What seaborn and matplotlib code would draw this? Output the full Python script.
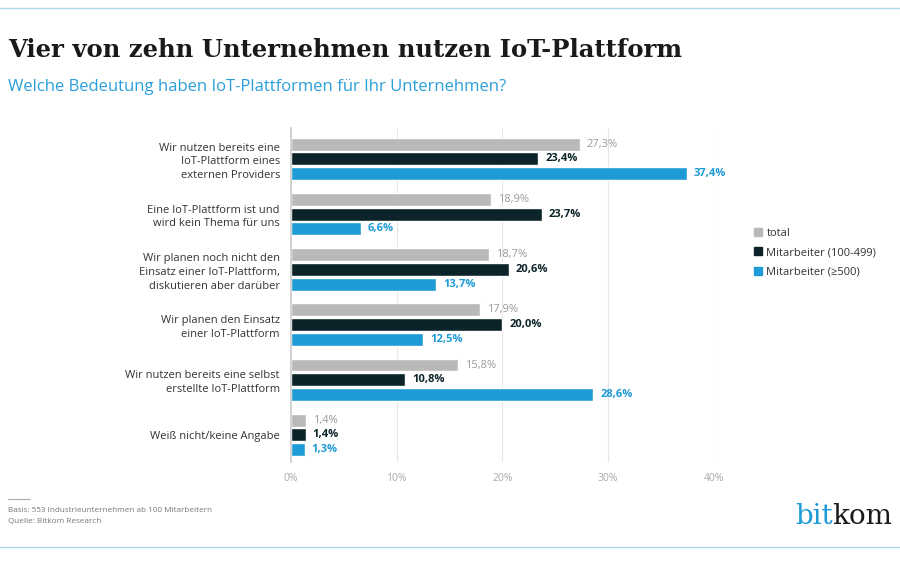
import matplotlib.pyplot as plt
import seaborn as sns
import pandas as pd
from matplotlib.lines import Line2D

# chart data
categories = [
    'Wir nutzen bereits eine\nIoT-Plattform eines\nexternen Providers',
    'Eine IoT-Plattform ist und\nwird kein Thema für uns',
    'Wir planen noch nicht den\nEinsatz einer IoT-Plattform,\ndiskutieren aber darüber',
    'Wir planen den Einsatz\neiner IoT-Plattform',
    'Wir nutzen bereits eine selbst\nerstellte IoT-Plattform',
    'Weiß nicht/keine Angabe',
]
series = ['total', 'Mitarbeiter (100-499)', 'Mitarbeiter (≥500)']
total = [27.3, 18.9, 18.7, 17.9, 15.8, 1.4]
mid_size = [23.4, 23.7, 20.6, 20.0, 10.8, 1.4]
large = [37.4, 6.6, 13.7, 12.5, 28.6, 1.3]
xticks = [0, 10, 20, 30, 40]

colors = ['#b9b9b9', '#0c2429', '#1e9bd7']
label_colors = ['#9a9a9a', '#0c2429', '#1e9bd7']
label_weights = ['normal', 'bold', 'bold']

rows = []
for s, vals in zip(series, [total, mid_size, large]):
    for c, v in zip(categories, vals):
        rows.append({'category': c, 'series': s, 'value': v})
df = pd.DataFrame(rows)

sns.set_style('white')
plt.rcParams['font.family'] = ['Open Sans', 'DejaVu Sans']

fig = plt.figure(figsize=(9, 5.63), dpi=100)
ax = fig.add_axes([291 / 900, 1 - 462 / 563, 423 / 900, 334 / 563])

sns.barplot(data=df, x='value', y='category', hue='series', orient='h',
            palette=colors, width=0.8, gap=0.12, ax=ax, legend=False,
            saturation=1)

# value labels
for i, cont in enumerate(ax.containers):
    labels = [f'{v:.1f}%'.replace('.', ',') for v in cont.datavalues]
    ax.bar_label(cont, labels=labels, padding=5, fontsize=8,
                 color=label_colors[i], fontweight=label_weights[i],
                 clip_on=False)

ax.set_xlim(0, 40)
ax.set_ylim(5.49, -0.56)
ax.set_xticks(xticks)
ax.set_xticklabels([f'{t}%' for t in xticks], fontsize=7.5, color='#aaaaaa')
ax.tick_params(axis='x', length=0, pad=8)
ax.tick_params(axis='y', length=0, pad=8)
for lab in ax.get_yticklabels():
    lab.set_fontsize(8)
    lab.set_color('#333333')
    lab.set_linespacing(1.35)
ax.set_xlabel('')
ax.set_ylabel('')
ax.xaxis.grid(True, color='#e6e6e6', lw=0.8)
ax.set_axisbelow(True)
for side in ['top', 'right', 'bottom']:
    ax.spines[side].set_visible(False)
ax.spines['left'].set_color('#cccccc')
ax.spines['left'].set_linewidth(1.2)

# legend
handles = [Line2D([], [], marker='s', ls='', color=c, markersize=6) for c in colors]
fig.legend(handles, series, loc='upper left', bbox_to_anchor=(742 / 900, 1 - 218 / 563),
           frameon=False, fontsize=8, labelcolor='#333333', handletextpad=0.3,
           labelspacing=0.75, handlelength=1.0)

# title area
fig.text(8 / 900, 1 - 50 / 563, 'Vier von zehn Unternehmen nutzen IoT-Plattform',
         fontsize=17.5, family='DejaVu Serif', fontweight='bold', color='#1a1a1a',
         va='center')
fig.text(8 / 900, 1 - 87 / 563, 'Welche Bedeutung haben IoT-Plattformen für Ihr Unternehmen?',
         fontsize=12, color='#2a9fd8', va='center')

# frame lines
fig.add_artist(Line2D([0, 1], [1 - 8 / 563, 1 - 8 / 563], color='#a9d4ee', lw=1))
fig.add_artist(Line2D([0, 1], [1 - 547 / 563, 1 - 547 / 563], color='#a9d4ee', lw=1))

# footer
fig.add_artist(Line2D([8 / 900, 30 / 900], [1 - 499 / 563, 1 - 499 / 563], color='#aaaaaa', lw=0.8))
fig.text(8 / 900, 1 - 510 / 563, 'Basis: 553 Industrieunternehmen ab 100 Mitarbeitern',
         fontsize=5.9, color='#777777', va='center')
fig.text(8 / 900, 1 - 521 / 563, 'Quelle: Bitkom Research',
         fontsize=5.9, color='#777777', va='center')
t = fig.text(795 / 900, 1 - 516 / 563, 'bit', fontsize=20, family='DejaVu Serif',
             color='#1e9bd7', va='center')
fig.canvas.draw()
bb = t.get_window_extent()
fig.text(bb.x1 / 900, 1 - 516 / 563, 'kom', fontsize=20, family='DejaVu Serif',
         color='#1a1a1a', va='center')

fig.savefig('out.png', dpi=100)
